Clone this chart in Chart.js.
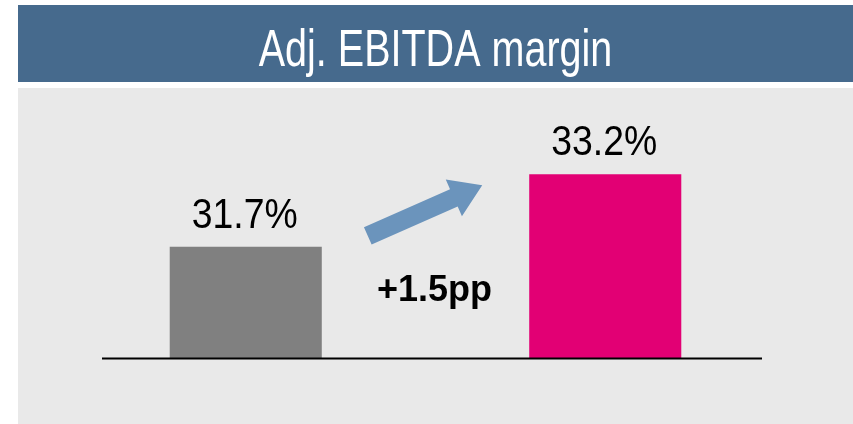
<!DOCTYPE html>
<html>
<head>
<meta charset="utf-8">
<script src="https://cdn.jsdelivr.net/npm/chart.js@4/dist/chart.umd.min.js"></script>
<style>
  body { margin: 0; background: #fff; }
  #wrap { width: 853px; height: 424px; }
</style>
</head>
<body>
<div id="wrap"><canvas id="chart" width="853" height="424"></canvas></div>
<script>
// --- DATA ---
const title = 'Adj. EBITDA margin';
const categories = ['Prior year', 'Current year'];
const margins = [31.7, 33.2];
const barColors = ['#808080', '#e20074'];
const deltaLabel = '+1.5pp';

// condensed text helper
function drawText(ctx, txt, x, y, font, sx, color) {
    ctx.save();
    ctx.font = font;
    ctx.fillStyle = color;
    ctx.textAlign = 'center';
    ctx.textBaseline = 'alphabetic';
    ctx.translate(x, y);
    ctx.scale(sx, 1);
    ctx.fillText(txt, 0, 0);
    ctx.restore();
}

// --- fond, bandeau titre ---
const backgroundPlugin = {
    id: 'background',
    beforeDraw(chart) {
        const ctx = chart.ctx;
        ctx.save();
        ctx.fillStyle = '#ffffff';
        ctx.fillRect(0, 0, chart.width, chart.height);
        ctx.fillStyle = '#466a8d';
        ctx.fillRect(18, 5, chart.width - 18, 77);
        ctx.fillStyle = '#e9e9e9';
        ctx.fillRect(18, 88, chart.width - 18, chart.height - 88);
        ctx.restore();
        drawText(ctx, title, 435.5, 66, '52px "Liberation Sans", sans-serif', 0.76, '#ffffff');
    }
};

// --- étiquettes, flèche, ligne de base ---
const annotatePlugin = {
    id: 'annotate',
    afterDatasetsDraw(chart) {
        const ctx = chart.ctx;
        const area = chart.chartArea;
        const bars = chart.getDatasetMeta(0).data;

        // ligne de base
        ctx.save();
        ctx.strokeStyle = '#000000';
        ctx.lineWidth = 2;
        ctx.beginPath();
        ctx.moveTo(area.left + 36, area.bottom + 0.5);
        ctx.lineTo(area.right - 23, area.bottom + 0.5);
        ctx.stroke();
        ctx.restore();

        // valeurs au-dessus des barres
        bars.forEach((b, i) => {
            drawText(ctx, margins[i].toFixed(1) + '%', b.x - 1, b.y - 19,
                '42px "Liberation Sans", sans-serif', 0.89, '#000000');
        });

        // flèche
        const b0 = bars[0], b1 = bars[1];
        const x1 = b0.x + b0.width / 2 + 46, y1 = b0.y - 11;
        const x2 = b1.x - b1.width / 2 - 47, y2 = b1.y + 11;
        const ang = Math.atan2(y2 - y1, x2 - x1);
        const len = Math.hypot(x2 - x1, y2 - y1);
        const sw = 9.5, hw = 20, hl = 31;
        ctx.save();
        ctx.translate(x1, y1);
        ctx.rotate(ang);
        ctx.fillStyle = '#6b94bc';
        ctx.beginPath();
        ctx.moveTo(0, -sw);
        ctx.lineTo(len - hl, -sw);
        ctx.lineTo(len - hl, -hw);
        ctx.lineTo(len, 0);
        ctx.lineTo(len - hl, hw);
        ctx.lineTo(len - hl, sw);
        ctx.lineTo(0, sw);
        ctx.closePath();
        ctx.fill();
        ctx.restore();

        // écart
        const midX = (b0.x + b0.width / 2 + b1.x - b1.width / 2) / 2;
        drawText(ctx, deltaLabel, midX + 9, area.bottom - 57,
            'bold 36px "Liberation Sans", sans-serif', 1, '#000000');
    }
};

const ctx = document.getElementById('chart').getContext('2d');
new Chart(ctx, {
    type: 'bar',
    data: {
        labels: categories,
        datasets: [{
            data: margins,
            backgroundColor: barColors,
            borderWidth: 0,
            barPercentage: 0.423,
            categoryPercentage: 1
        }]
    },
    options: {
        responsive: false,
        animation: false,
        layout: { padding: { left: 66, right: 68, top: 97, bottom: 66 } },
        plugins: {
            legend: { display: false },
            tooltip: { enabled: false }
        },
        scales: {
            x: { display: false },
            y: { display: false, min: 29.4, max: 34.8 }
        }
    },
    plugins: [backgroundPlugin, annotatePlugin]
});
</script>
</body>
</html>
